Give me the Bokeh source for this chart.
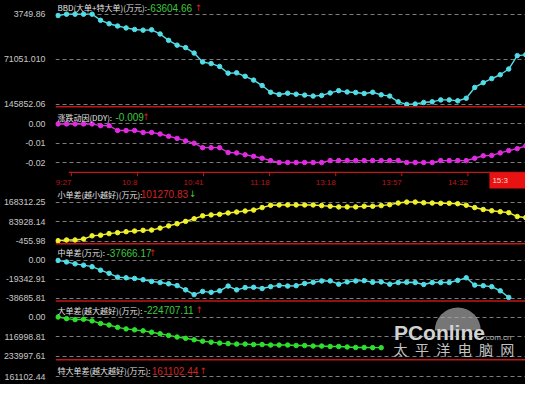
from math import pi
from bokeh.plotting import figure
from bokeh.layouts import column
from bokeh.models import Range1d, FixedTicker, Span, Label
from bokeh.embed import file_html
from bokeh.resources import INLINE
from bokeh.core.properties import value

# ---------------- data ----------------
TIME_TICKS = [0, 8, 16, 24, 32, 40, 48]
TIME_LABELS = ["9:27", "10:8", "10:41", "11:18", "13:18", "13:57", "14:32"]
CURSOR_INDEX = 50.6
CURSOR_LABEL = "15:3"

bbd = [1531, 3749.86, 3749.86, 3749.86, 3749.86, -6393, -12098, -15902, -19071, -21607,
       -22716, -22241, -29055, -39674, -47598, -51718, -60751, -75490, -78184, -82939,
       -94032, -93557, -99262, -105601, -114635, -125728, -129373, -127313, -128898, -130483,
       -132067, -130958, -126838, -123034, -125253, -126046, -127788, -125728, -130007, -132067,
       -141577, -145852.06, -145221, -142686, -141577, -138407, -138407, -139991, -135712, -117804,
       -109880, -103067, -96726, -87218, -65029, -63604.66]

ddy = [0.0, 0.0, 0.0, 0.0, 0.0, -0.0009, -0.0009, -0.0034, -0.0034, -0.0034,
       -0.0044, -0.0044, -0.0052, -0.0064, -0.0075, -0.0088, -0.0100, -0.0123, -0.0123, -0.0123,
       -0.0148, -0.0150, -0.0160, -0.0168, -0.0178, -0.0190, -0.0200, -0.0200, -0.0200, -0.0200,
       -0.0200, -0.0200, -0.0190, -0.0190, -0.0190, -0.0190, -0.0190, -0.0190, -0.0190, -0.0190,
       -0.0190, -0.0200, -0.0200, -0.0200, -0.0200, -0.0190, -0.0190, -0.0190, -0.0190, -0.0178,
       -0.0165, -0.0163, -0.0150, -0.0138, -0.0128, -0.0114]

small = [1628, 4545, 4545, 8712, 22463, 25380, 32048, 36215, 40382, 43299,
         46216, 47466, 55800, 65385, 74552, 84970, 96221, 108722, 112890, 115390,
         121224, 125391, 129558, 133725, 144560, 154561, 155811, 155811, 155811, 155811,
         155811, 152894, 150393, 147476, 147476, 147476, 150393, 150393, 152894, 157061,
         164145, 168312.25, 168312.25, 165395, 164145, 162895, 162895, 161228, 154561, 144560,
         136225, 130808, 126641, 122474, 105805, 101270.83]

mid = [0, -1547, -3482, -4836, -6383, -9961, -13153, -17021, -17698, -18375,
       -19632, -21373, -22533, -23791, -25628, -29980, -34816, -31527, -32495, -30947,
       -26112, -29980, -27659, -27369, -28626, -26692, -25435, -26112, -25725, -23501,
       -22243, -20889, -20889, -24178, -21856, -20889, -20599, -22243, -21856, -24178,
       -22533, -22243, -22533, -24468, -22533, -22533, -22533, -20309, -17698, -25145,
       -25725, -26692, -30947, -37666.17]

large = [0, -9773, -15522, -13223, -22996, -38518, -47717, -61514, -70713, -76462,
         -82211, -90259, -99458, -109231, -119004, -126478, -135102, -143725, -149474, -155223,
         -158098, -160972, -160972, -163847, -163847, -166721, -166721, -166721, -169596, -169596,
         -172470, -172470, -175345, -175345, -178219, -181094, -181094, -182243, -182243]

# axis scales (top, middle, bottom grid values) and their printed labels
bbd_ticks = [3749.86, -71051.10, -145852.06]
bbd_tick_text = ["3749.86", "71051.010", "145852.06"]
ddy_ticks = [0.0, -0.01, -0.02]
ddy_tick_text = ["0.00", "-0.01", "-0.02"]
small_ticks = [168312.25, 83928.135, -455.98]
small_tick_text = ["168312.25", "83928.14", "-455.98"]
mid_ticks = [0.0, -19342.905, -38685.81]
mid_tick_text = ["0.00", "-19342.91", "-38685.81"]
large_ticks = [0.0, -116998.805, -233997.61]
large_tick_text = ["0.00", "116998.81", "233997.61"]
huge_ticks = [161102.44]
huge_tick_text = ["161102.44"]

titles = {
    "bbd": ("BBD(大单+特大单)(万元):", "-63604.66", "↑"),
    "ddy": ("涨跌动因(DDY):", "-0.009", "↑"),
    "small": ("小单差(越小越好)(万元):", "101270.83", "↓"),
    "mid": ("中单差(万元):", "-37666.17", "↑"),
    "large": ("大单差(越大越好)(万元):", "-224707.11", "↑"),
    "huge": ("特大单差(越大越好)(万元):", "161102.44", "↑"),
}

# ---------------- styling / layout ----------------
W = 525
BORDER_L = 47
BG = "#000000"
GRID = "#7c7c7c"
RED = "#c41616"
WHITE = "#e4e4e4"
GREEN_TXT = "#3ec83e"
RED_TXT = "#d42020"
CJK = "Noto Sans CJK SC"
NUM = "Liberation Sans"
XR = Range1d(-0.3, 54.97)
PPU = (W - BORDER_L) / (XR.end - XR.start)


def xi(px):
    return (px - 50.7) / 8.92


def base_fig(h, yr, xr=XR, border_l=BORDER_L):
    return figure(width=W, height=h, x_range=xr, y_range=yr,
                  output_backend="svg", toolbar_location=None,
                  min_border_left=border_l, min_border_right=0, min_border_top=0,
                  min_border_bottom=0, background_fill_color=BG, border_fill_color=BG,
                  outline_line_color=None)


def make_panel(h, ref_top, ref_bot, grid_px, grid_vals, ticks, tick_text):
    p0, p1 = grid_px
    v0, v1 = grid_vals
    k = (v1 - v0) / (p1 - p0)

    def val(py):
        return v0 + (py - p0) * k

    p = base_fig(h, Range1d(val(ref_bot), val(ref_top)))
    p.xgrid.visible = False
    p.xaxis.visible = False
    p.ygrid.ticker = FixedTicker(ticks=ticks)
    p.ygrid.grid_line_color = GRID
    p.ygrid.grid_line_dash = "4 3"
    p.ygrid.grid_line_width = 1
    ax = p.yaxis[0]
    ax.ticker = FixedTicker(ticks=ticks)
    ax.major_label_overrides = {t: s for t, s in zip(ticks, tick_text)}
    ax.axis_line_color = None
    ax.major_tick_line_color = None
    ax.minor_tick_line_color = None
    ax.major_label_standoff = 4
    ax.major_label_text_color = "#c8c8c8"
    ax.major_label_text_font = NUM
    ax.major_label_text_font_size = "8.8px"
    return p, val


def add_title(p, val, key, ty, xs, num_color, arrow_color):
    t, v, a = titles[key]
    p.add_layout(Label(x=xi(xs[0]), y=val(ty), text=t, text_color=WHITE, text_font=CJK,
                       text_font_size="8px", text_baseline="middle", text_align="left"))
    p.add_layout(Label(x=xi(xs[1]), y=val(ty), text=v, text_color=num_color, text_font=NUM,
                       text_font_size="10px", text_baseline="middle", text_align="left"))
    p.add_layout(Label(x=xi(xs[2]), y=val(ty), text=a, text_color=arrow_color, text_font="DejaVu Sans",
                       text_font_size="9px", text_baseline="middle", text_align="left"))


def add_series(p, ys, color):
    xs = list(range(len(ys)))
    p.line(xs, ys, line_color=color, line_width=1.4)
    p.scatter(xs, ys, size=4.5, fill_color=color, line_color=color)


def red_line(p, val, py):
    p.add_layout(Span(location=val(py), dimension="width", line_color=RED, line_width=1.5))


# Panel 1: BBD
p1, v1 = make_panel(108, 0, 113, (14.3, 108.7), (bbd_ticks[0], bbd_ticks[-1]), bbd_ticks, bbd_tick_text)
add_series(p1, bbd, "#52dde6")
red_line(p1, v1, 111.2)
add_title(p1, v1, "bbd", 7.5, (50, 144, 194), GREEN_TXT, RED_TXT)

# Panel 2: DDY
p2, v2 = make_panel(63, 113, 178.3, (129, 169), (ddy_ticks[0], ddy_ticks[-1]), ddy_ticks, ddy_tick_text)
add_series(p2, ddy, "#e02ce0")
add_title(p2, v2, "ddy", 122, (50, 111, 139), GREEN_TXT, RED_TXT)

# time strip (same x scale as the panels, frame widened to the left so "9:27" is not cut)
STRIP_L = 33
XR_T = Range1d(XR.start - (BORDER_L - STRIP_L) / PPU, XR.end)
pt = base_fig(18, Range1d(0, 1), xr=XR_T, border_l=STRIP_L)
pt.axis.visible = False
pt.grid.visible = False
pt.segment(x0=[XR.start], y0=[0.96], x1=[XR.end], y1=[0.96], line_color=RED, line_width=1.6)
pt.segment(x0=TIME_TICKS, y0=[1.0] * len(TIME_TICKS), x1=TIME_TICKS, y1=[0.74] * len(TIME_TICKS),
           line_color=RED, line_width=1)
pt.text(x=TIME_TICKS, y=[0.38] * len(TIME_TICKS), text=TIME_LABELS, text_color="#b81818",
        text_font=value(NUM), text_font_size="8px", text_align="right", text_baseline="middle")
pt.quad(left=[CURSOR_INDEX], right=[XR.end + 2], bottom=[0.06], top=[0.91],
        fill_color="#e81212", line_color=None)
pt.text(x=[CURSOR_INDEX], y=[0.5], text=[CURSOR_LABEL], x_offset=3, text_color="#ffd8d8",
        text_font=value(NUM), text_font_size="8px", text_align="left", text_baseline="middle")

# Panel 3: small orders
p3, v3 = make_panel(56, 197, 255, (210, 250.5), (small_ticks[0], small_ticks[-1]), small_ticks, small_tick_text)
add_series(p3, small, "#f0f02c")
red_line(p3, v3, 253.3)
add_title(p3, v3, "small", 202, (50, 137.5, 188), RED_TXT, GREEN_TXT)

# Panel 4: mid orders
p4, v4 = make_panel(57, 255, 315, (270.7, 310.7), (mid_ticks[0], mid_ticks[-1]), mid_ticks, mid_tick_text)
add_series(p4, mid, "#52dde6")
red_line(p4, v4, 313.3)
add_title(p4, v4, "mid", 262.5, (50, 101.5, 146), GREEN_TXT, RED_TXT)

# Panel 5: large orders
p5, v5 = make_panel(59, 315, 376, (330, 370.7), (large_ticks[0], large_ticks[-1]), large_ticks, large_tick_text)
add_series(p5, large, "#2ee02e")
red_line(p5, v5, 374.3)
add_title(p5, v5, "large", 323, (50, 140.5, 195), GREEN_TXT, RED_TXT)

# watermark
p5.wedge(x=[xi(470)], y=[v5(344)], radius=23, radius_units="screen", start_angle=0, end_angle=pi,
         fill_color="#a8a8a8", fill_alpha=0.7, line_color=None)
p5.add_layout(Label(x=xi(403), y=v5(346), text="PConline", text_color="#d2d2d2", text_font=NUM,
                    text_font_size="21px", text_font_style="bold", text_baseline="middle"))
p5.add_layout(Label(x=xi(497), y=v5(351.5), text=".com.cn", text_color="#b4b4b4", text_font=NUM,
                    text_font_size="8px", text_baseline="middle"))
wm_chars = list("太平洋电脑网")
p5.text(x=[xi(410 + 22.4 * k) for k in range(6)], y=[v5(363.5)] * 6, text=wm_chars,
        text_color="#c4c4c4", text_font=value(CJK), text_font_size="14px",
        text_align="center", text_baseline="middle")

# Panel 6: huge orders
p6, v6 = make_panel(23, 376, 400, (391.7, 401.7), (161102.44, 151102.44), huge_ticks, huge_tick_text)
add_title(p6, v6, "huge", 385.5, (50, 149, 199), RED_TXT, RED_TXT)

layout = column(p1, p2, pt, p3, p4, p5, p6, spacing=0, styles={"background-color": "#000000"})
open("out.html", "w").write(file_html(layout, INLINE))
